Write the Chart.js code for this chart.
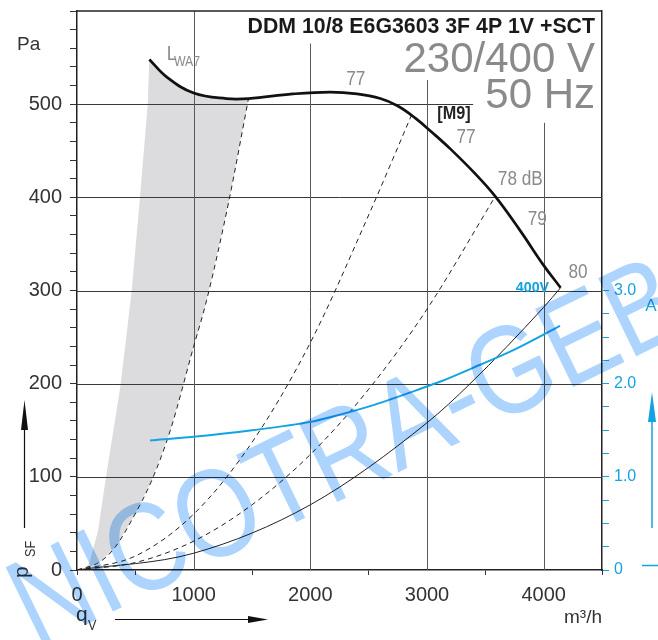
<!DOCTYPE html>
<html>
<head>
<meta charset="utf-8">
<title>DDM 10/8 E6G3603 3F 4P 1V +SCT</title>
<script src="https://cdn.jsdelivr.net/npm/chart.js@4/dist/chart.umd.min.js"></script>
<style>
html,body{margin:0;padding:0;background:#ffffff;}
#wrap{width:658px;height:640px;}
canvas{display:block;}
</style>
</head>
<body>
<div id="wrap"><canvas id="chart" width="658" height="640"></canvas></div>
<script>
// ---------- values ----------
// fan characteristic (static pressure, Pa) vs air flow (m³/h)
const fanFlow     = [620, 770, 1000, 1280, 1470, 1850, 2170, 2400, 2600, 2750, 2900, 3050, 3200, 3400, 3585, 3800, 4000, 4145];
const fanPressure = [548, 529, 512, 506, 506, 511, 513, 511, 506, 498, 485, 469, 452, 427, 401, 364, 327, 303];

// left edge of the grey (not recommended) zone
const lwaEdgeFlow     = [80, 111, 180, 249, 375, 469, 540, 606, 620];
const lwaEdgePressure = [2, 10, 42, 100, 200, 300, 400, 500, 548];

// system curves
const sys1Flow     = [0, 200, 330, 480, 640, 800, 1000, 1110, 1300, 1470];
const sys1Pressure = [0, 9, 25, 56, 96, 150, 240, 289, 395, 506];
const sys2Flow     = [0, 500, 1000, 1500, 2000, 2500, 2870];
const sys2Pressure = [0, 15, 60, 137, 244, 381, 489];
const sys3Flow     = [0, 500, 1000, 1500, 2000, 2500, 3000, 3585];
const sys3Pressure = [0, 8, 31, 70, 124, 194, 280, 401];
const sys4Flow     = [0, 1000, 2000, 3000, 3370, 4000, 4145];
const sys4Pressure = [0, 18, 70, 158, 200, 282, 303];

// current (A) at 400 V
const currentFlow = [626, 1000, 1500, 2000, 2170, 2540, 3000, 3110, 3450, 3740, 4140];
const currentAmp  = [1.39, 1.43, 1.50, 1.59, 1.64, 1.77, 1.97, 2.02, 2.20, 2.36, 2.62];

// sound power labels (dB) along the fan curve
const soundText     = ['77', '77', '78 dB', '79', '80'];
const soundFlow     = [2390, 3335, 3800, 3945, 4295];
const soundPressure = [527, 464, 419, 376, 319];

// ticks
const xTickValues = [0, 500, 1000, 1500, 2000, 2500, 3000, 3500, 4000, 4500];
const xTickLabels = ['0', '', '1000', '', '2000', '', '3000', '', '4000', ''];
const yTickValues = [0,20,40,60,80,100,120,140,160,180,200,220,240,260,280,300,320,340,360,380,400,420,440,460,480,500,520,540,560,580,600];
const yTickLabels = ['0','100','200','300','400','500'];
const ampTickValues = [0,0.25,0.5,0.75,1,1.25,1.5,1.75,2,2.25,2.5,2.75,3];
const ampTickLabels = ['0','1.0','2.0','3.0'];

// ---------- drawing ----------
const FF = "'Liberation Sans', Arial, Helvetica, sans-serif";
const BLUE = '#14a3e2';
const toXY = (xs, ys) => xs.map((v, i) => ({x: v, y: ys[i]}));

function condText(ctx, text, x, y, sx) {
  ctx.save(); ctx.translate(x, y); ctx.scale(sx, 1); ctx.fillText(text, 0, 0); ctx.restore();
}
function arrowHead(ctx, tipX, tipY, dir, len, half) {
  ctx.beginPath();
  if (dir === 'up') { ctx.moveTo(tipX, tipY); ctx.lineTo(tipX - half, tipY + len); ctx.lineTo(tipX + half, tipY + len); }
  else { ctx.moveTo(tipX, tipY); ctx.lineTo(tipX - len, tipY - half); ctx.lineTo(tipX - len, tipY + half); }
  ctx.closePath(); ctx.fill();
}
function fixV(s, w) { s.width = w; s.paddingTop = 0; s.paddingBottom = 0; }

const deco = {
  id: 'deco',
  beforeDatasetsDraw(chart) {
    const {ctx, chartArea: ca, scales: {x, y}} = chart;
    const px = v => x.getPixelForValue(v), py = v => y.getPixelForValue(v);
    ctx.save();
    // grey zone
    ctx.beginPath();
    lwaEdgeFlow.forEach((q, i) => { const X = px(q), Y = py(lwaEdgePressure[i]); i ? ctx.lineTo(X, Y) : ctx.moveTo(X, Y); });
    fanFlow.forEach((q, i) => { if (q > 620 && q <= 1470) ctx.lineTo(px(q), py(fanPressure[i])); });
    for (let i = sys1Flow.length - 1; i >= 0; i--) { if (sys1Flow[i] >= 80) ctx.lineTo(px(sys1Flow[i]), py(sys1Pressure[i])); }
    ctx.closePath();
    ctx.fillStyle = '#dcdcde';
    ctx.fill();
    // grid
    ctx.lineWidth = 1;
    ctx.strokeStyle = '#3a3a3a';
    [[100, 4500], [200, 4500], [300, 4500], [400, 4500], [500, 3395]].forEach(([v, to]) => {
      const Y = Math.round(py(v)) + 0.5;
      ctx.beginPath(); ctx.moveTo(ca.left, Y); ctx.lineTo(px(to), Y); ctx.stroke();
    });
    ctx.strokeStyle = '#5a5a5a';
    [[1000, 600], [2000, 565], [3000, 526], [4000, 480]].forEach(([v, to]) => {
      const X = Math.round(px(v)) + 0.5;
      ctx.beginPath(); ctx.moveTo(X, ca.bottom); ctx.lineTo(X, py(to)); ctx.stroke();
    });
    // top border
    ctx.strokeStyle = '#222';
    ctx.lineWidth = 1.3;
    ctx.beginPath(); ctx.moveTo(ca.left, ca.top); ctx.lineTo(ca.right, ca.top); ctx.stroke();
    ctx.restore();
  },
  afterDraw(chart) {
    const {ctx, scales: {x, y}} = chart;
    const px = v => x.getPixelForValue(v), py = v => y.getPixelForValue(v);
    ctx.save();
    // title block
    ctx.textAlign = 'right'; ctx.textBaseline = 'alphabetic';
    ctx.fillStyle = '#1a1a1a';
    ctx.font = `bold 21.3px ${FF}`;
    ctx.fillText('DDM 10/8 E6G3603 3F 4P 1V +SCT', 595, 33);
    ctx.fillStyle = '#8a8a8a';
    ctx.font = `42px ${FF}`;
    ctx.fillText('230/400 V', 595, 72);
    ctx.fillText('50 Hz', 595, 108);

    // sound labels
    ctx.textAlign = 'center'; ctx.textBaseline = 'middle';
    ctx.fillStyle = '#8a8a8a';
    ctx.font = `20px ${FF}`;
    soundText.forEach((t, i) => condText(ctx, t, px(soundFlow[i]), py(soundPressure[i]), 0.86));
    // L_WA7
    ctx.textAlign = 'left'; ctx.textBaseline = 'alphabetic';
    ctx.font = `20px ${FF}`;
    condText(ctx, 'L', px(769), py(547), 0.9);
    ctx.font = `15px ${FF}`;
    condText(ctx, 'WA7', px(831), py(541.5), 0.82);
    // [M9]
    ctx.textAlign = 'center'; ctx.textBaseline = 'middle';
    ctx.fillStyle = '#222';
    ctx.font = `bold 18px ${FF}`;
    condText(ctx, '[M9]', px(3231), py(489), 0.9);
    // 400V
    ctx.fillStyle = BLUE;
    ctx.font = `bold 15px ${FF}`;
    condText(ctx, '400V', px(3904), py(303), 0.95);

    // axis titles
    ctx.fillStyle = '#333';
    ctx.textAlign = 'left'; ctx.textBaseline = 'alphabetic';
    ctx.font = `19px ${FF}`;
    ctx.fillText('Pa', 17, 50);
    // p_SF rotated
    ctx.save(); ctx.translate(28, 578); ctx.rotate(-Math.PI / 2);
    ctx.font = `21px ${FF}`; ctx.fillText('p', 0, 0);
    ctx.restore();
    ctx.save(); ctx.translate(35, 557); ctx.rotate(-Math.PI / 2); ctx.scale(0.9, 1);
    ctx.font = `14px ${FF}`; ctx.fillText('SF', 0, 0);
    ctx.restore();
    // arrow up
    ctx.strokeStyle = '#111'; ctx.fillStyle = '#111'; ctx.lineWidth = 1.2;
    ctx.beginPath(); ctx.moveTo(24.5, 528); ctx.lineTo(24.5, 420); ctx.stroke();
    arrowHead(ctx, 24.5, 400, 'up', 30, 3.5);
    // q_V
    ctx.fillStyle = '#333';
    ctx.font = `21px ${FF}`; ctx.fillText('q', 76, 621);
    ctx.save(); ctx.translate(88, 630); ctx.scale(0.9, 1); ctx.font = `14px ${FF}`; ctx.fillText('V', 0, 0); ctx.restore();
    ctx.strokeStyle = '#111'; ctx.fillStyle = '#111';
    ctx.beginPath(); ctx.moveTo(115, 619.5); ctx.lineTo(255, 619.5); ctx.stroke();
    arrowHead(ctx, 268, 619.5, 'right', 20, 3.5);
    // m³/h
    ctx.fillStyle = '#333';
    ctx.textAlign = 'right';
    ctx.font = `19px ${FF}`;
    ctx.fillText('m³/h', 602, 623);
    // A (right)
    ctx.fillStyle = BLUE; ctx.strokeStyle = BLUE;
    ctx.textAlign = 'center'; ctx.textBaseline = 'middle';
    ctx.font = `17px ${FF}`;
    ctx.fillText('A', 651, 306);
    ctx.lineWidth = 1.5;
    ctx.beginPath(); ctx.moveTo(652, 528); ctx.lineTo(652, 410); ctx.stroke();
    arrowHead(ctx, 652, 392, 'up', 30, 4);
    ctx.beginPath(); ctx.moveTo(642, 565.5); ctx.lineTo(658, 565.5); ctx.stroke();

    // watermark
    ctx.globalCompositeOperation = 'multiply';
    ctx.fillStyle = 'rgb(172,212,255)';
    ctx.font = `105px ${FF}`;
    ctx.textAlign = 'left'; ctx.textBaseline = 'alphabetic';
    ctx.translate(36, 649); ctx.rotate(-26 * Math.PI / 180); ctx.scale(1, 1.2);
    ctx.fillText('NICOTRA-GEBHARDT', 0, 0);
    ctx.restore();
  }
};

const dashed = [5, 4];
new Chart(document.getElementById('chart'), {
  type: 'line',
  data: {
    datasets: [
      {data: toXY(fanFlow, fanPressure), borderColor: '#111', borderWidth: 2.7, tension: 0.4, order: 1},
      {data: toXY(currentFlow, currentAmp), yAxisID: 'y2', borderColor: BLUE, borderWidth: 2, cubicInterpolationMode: 'monotone', order: 2},
      {data: toXY(sys4Flow, sys4Pressure), borderColor: '#222', borderWidth: 1, cubicInterpolationMode: 'monotone', order: 3},
      {data: toXY(sys3Flow, sys3Pressure), borderColor: '#222', borderWidth: 1, borderDash: dashed, cubicInterpolationMode: 'monotone', order: 4},
      {data: toXY(sys2Flow, sys2Pressure), borderColor: '#222', borderWidth: 1, borderDash: dashed, cubicInterpolationMode: 'monotone', order: 5},
      {data: toXY(sys1Flow, sys1Pressure), borderColor: '#222', borderWidth: 1, borderDash: dashed, cubicInterpolationMode: 'monotone', order: 6}
    ]
  },
  options: {
    responsive: false,
    animation: false,
    events: [],
    elements: {point: {radius: 0}},
    layout: {padding: {top: 11, left: 0, right: 0, bottom: 0}},
    plugins: {legend: {display: false}, tooltip: {enabled: false}},
    font: {family: FF},
    scales: {
      x: {
        type: 'linear', min: 0, max: 4500,
        afterBuildTicks: s => { s.ticks = xTickValues.map(v => ({value: v})); },
        afterFit: s => { s.height = 70; s.paddingLeft = 0; s.paddingRight = 0; },
        grid: {drawOnChartArea: false, drawTicks: true, tickLength: 5, tickWidth: 1,
               tickColor: c => (c.tick && c.tick.value % 1000 === 0 && c.tick.value !== 0) ? 'rgba(0,0,0,0)' : '#333'},
        border: {display: true, color: '#222', width: 1.5},
        ticks: {autoSkip: false, maxRotation: 0, padding: 8, color: '#333', font: {family: FF, size: 20},
                callback: v => xTickLabels[xTickValues.indexOf(v)]}
      },
      y: {
        type: 'linear', position: 'left', min: 0, max: 600,
        afterBuildTicks: s => { s.ticks = yTickValues.map(v => ({value: v})); },
        afterFit: s => fixV(s, 77),
        grid: {drawOnChartArea: false, drawTicks: true, tickLength: 7, tickWidth: 1, tickColor: '#333'},
        border: {display: true, color: '#222', width: 1.5},
        ticks: {autoSkip: false, padding: 8, color: '#333', font: {family: FF, size: 20},
                callback: v => (v % 100 === 0 && v < 600) ? yTickLabels[v / 100] : ''}
      },
      y2: {
        type: 'linear', position: 'right', min: 0, max: 6,
        afterBuildTicks: s => { s.ticks = ampTickValues.map(v => ({value: v})); },
        afterFit: s => fixV(s, 56),
        grid: {drawOnChartArea: false, drawTicks: true, tickLength: 7, tickWidth: 1, tickColor: BLUE},
        border: {display: true, color: '#222', width: 1.5},
        ticks: {autoSkip: false, padding: 5, color: BLUE, font: {family: FF, size: 16},
                callback: v => Number.isInteger(v) ? ampTickLabels[v] : ''}
      }
    }
  },
  plugins: [deco]
});
</script>
</body>
</html>
